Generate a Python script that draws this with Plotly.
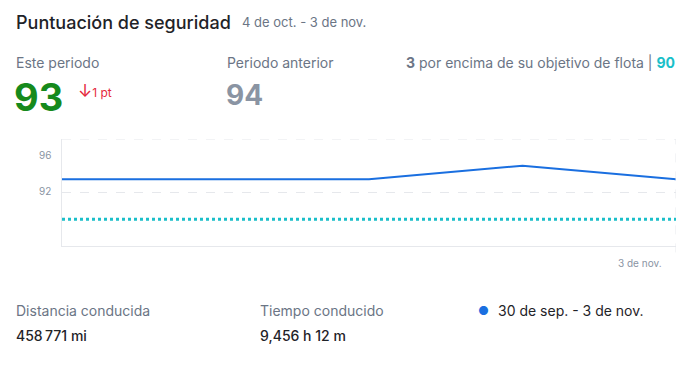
import plotly.graph_objects as go

# ---- data ----
dates = ["2023-10-06", "2023-10-13", "2023-10-20", "2023-10-27", "2023-11-03"]
scores = [93, 93, 93, 94, 93]
target = 90
y_ticks = [92, 96]
y_range = [88, 96]
x_tick_label = "3 de nov."

title = "Puntuación de seguridad"
subtitle = "4 de oct. - 3 de nov."
this_period = "93"
prev_period = "94"
delta = "<span style='font-size:17px'>↓</span><span style='font-size:12px'>1 pt</span>"
distance = "458\u202f771 mi"
drive_time = "9,456 h 12 m"
legend_label = "30 de sep. - 3 de nov."

FONT = "Inter, 'Open Sans', sans-serif"
GRAY = "#6b7585"
DARK = "#1f2328"
BLUE = "#1a6fe0"
TEAL = "#1bbfc9"
GRID = "#e6e8ec"

W, H = 691, 365
L, R, T, B = 62, 15, 139, 119
PW, PH = W - L - R, H - T - B

fig = go.Figure()
fig.add_trace(go.Scatter(x=[dates[0], dates[-1]], y=[target, target], mode="lines",
                         line=dict(color=TEAL, width=3, dash="dot"), hoverinfo="skip"))
fig.add_trace(go.Scatter(x=dates, y=scores, mode="lines",
                         line=dict(color=BLUE, width=2)))

fig.update_layout(
    width=W, height=H, autosize=False,
    margin=dict(l=L, r=R, t=T, b=B),
    paper_bgcolor="white", plot_bgcolor="white",
    showlegend=False,
    font=dict(family=FONT, color=GRAY),
)
fig.update_xaxes(type="date", range=[dates[0], dates[-1]], showgrid=False,
                 showticklabels=False, showline=True, linecolor=GRID, linewidth=1,
                 zeroline=False, ticks="")
fig.update_yaxes(range=y_range, tickvals=y_ticks, showticklabels=False,
                 showgrid=True, gridcolor=GRID, griddash="dash", gridwidth=1,
                 showline=True, linecolor=GRID, linewidth=1, zeroline=False, ticks="")

# right dashed vertical line
fig.add_shape(type="line", xref="x", yref="paper", x0=dates[-1], x1=dates[-1],
              y0=-0.06, y1=1, line=dict(color=GRID, width=1, dash="dash"))
# top gridline
fig.add_shape(type="line", xref="paper", yref="y", x0=0, x1=1, y0=y_ticks[1], y1=y_ticks[1],
              line=dict(color=GRID, width=1, dash="dash"))

ann = []
ann.append(dict(x=0, xref="paper", y=y_ticks[0], yref="y", text=str(y_ticks[0]),
                xanchor="right", yanchor="middle", xshift=-9, yshift=2, showarrow=False,
                font=dict(size=10, color="#8a94a3")))
ann.append(dict(x=0, xref="paper", y=y_ticks[1], yref="y", text=str(y_ticks[1]),
                xanchor="right", yanchor="middle", xshift=-9, yshift=-16, showarrow=False,
                font=dict(size=10, color="#8a94a3")))
ann.append(dict(x=dates[-1], xref="x", y=0, yref="paper", text=x_tick_label,
                xanchor="right", yanchor="top", xshift=-12, yshift=-9, showarrow=False,
                font=dict(size=10, color="#8a94a3")))


def t(x, y, text, size, color, anchor="left", weight=None):
    f = dict(size=size, color=color, family=FONT)
    if weight:
        f["weight"] = weight
    ann.append(dict(x=(x - L) / PW, xref="paper", y=(H - B - y) / PH, yref="paper", text=text,
                    xanchor=anchor, yanchor="middle", showarrow=False, font=f))


t(14, 22, title, 18, DARK, weight=500)
t(240, 22, subtitle, 13, GRAY)
t(14, 62, "Este periodo", 14, GRAY)
t(12, 97, this_period, 38, "#168a1c", weight=700)
t(76, 91, delta, 15, "#e5283c")
t(225, 62, "Periodo anterior", 14, GRAY)
t(224, 95, prev_period, 28, "#8a94a3", weight=700)
t(677, 62, "<b>3</b> por encima de su objetivo de flota | <span style='color:%s'><b>90</b></span>" % TEAL,
  14, GRAY, anchor="right")
t(14, 310, "Distancia conducida", 14, GRAY)
t(14, 335, distance, 14, DARK, weight=500)
t(258, 310, "Tiempo conducido", 14, GRAY)
t(258, 335, drive_time, 14, DARK, weight=500)
t(476, 310, "●", 12, BLUE)
t(496, 310, legend_label, 14, DARK)

fig.update_layout(annotations=ann)
fig.write_html("out.html", config={"displayModeBar": False},
               post_script="document.body.style.margin='0';")
